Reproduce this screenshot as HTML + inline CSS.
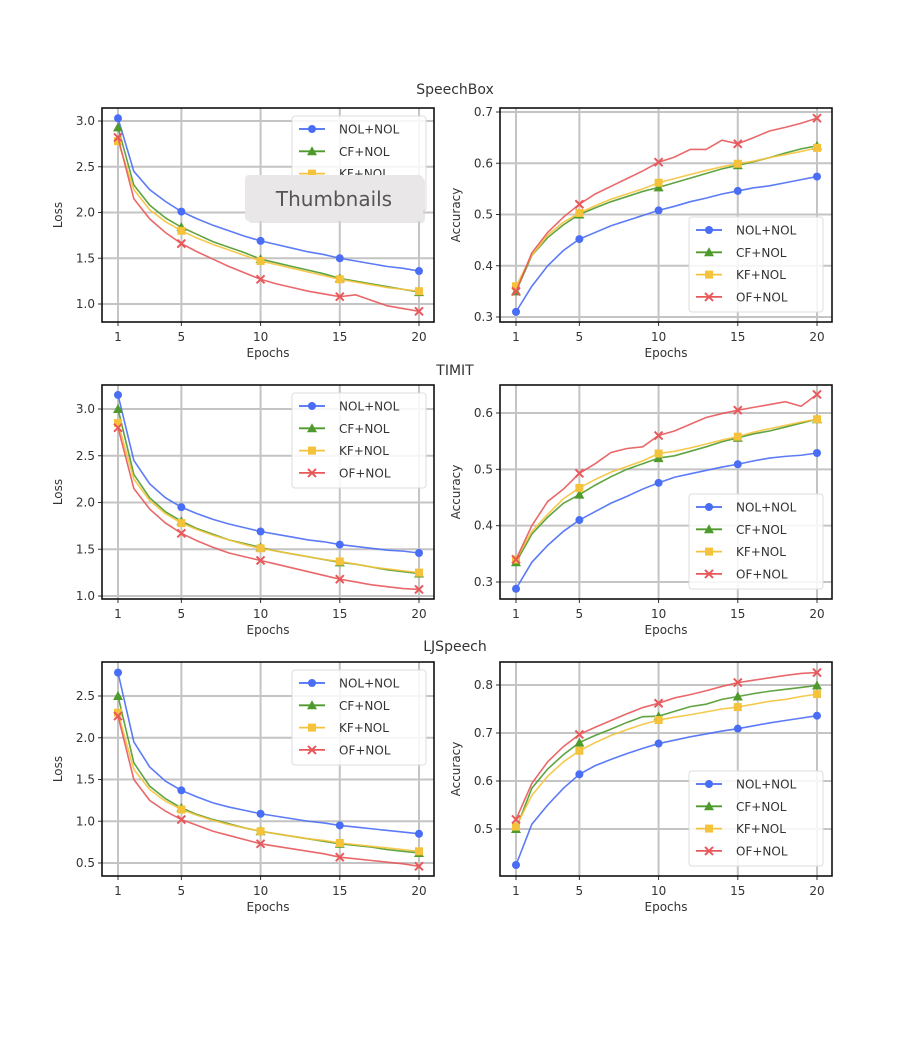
<!DOCTYPE html>
<html><head><meta charset="utf-8"><style>
body{margin:0;background:#fff;width:914px;height:1038px;overflow:hidden;font-family:"DejaVu Sans","Liberation Sans",sans-serif;}
svg{display:block}
text{font-family:"DejaVu Sans","Liberation Sans",sans-serif;fill:#333}
</style></head><body>
<svg id="fig" width="914" height="1038" viewBox="0 0 914 1038"></svg>
<script>
const epochs=[1,2,3,4,5,6,7,8,9,10,11,12,13,14,15,16,17,18,19,20];
const seriesNames=["NOL+NOL","CF+NOL","KF+NOL","OF+NOL"];
const xTicks=[1,5,10,15,20];
// SpeechBox
const sbLossNOL=[3.03,2.45,2.25,2.12,2.01,1.93,1.86,1.80,1.74,1.69,1.65,1.61,1.57,1.54,1.50,1.47,1.44,1.41,1.39,1.36];
const sbLossCF=[2.93,2.30,2.08,1.94,1.84,1.76,1.68,1.62,1.56,1.49,1.45,1.41,1.37,1.33,1.28,1.25,1.22,1.19,1.16,1.13];
const sbLossKF=[2.78,2.25,2.03,1.90,1.80,1.72,1.65,1.59,1.53,1.47,1.43,1.39,1.35,1.31,1.27,1.24,1.21,1.18,1.16,1.14];
const sbLossOF=[2.82,2.15,1.93,1.78,1.66,1.57,1.49,1.41,1.34,1.27,1.22,1.18,1.14,1.11,1.08,1.10,1.04,0.98,0.95,0.92];
const sbAccNOL=[0.31,0.36,0.40,0.43,0.452,0.465,0.478,0.488,0.498,0.508,0.516,0.525,0.532,0.540,0.546,0.552,0.556,0.562,0.568,0.574];
const sbAccCF=[0.35,0.42,0.455,0.48,0.50,0.513,0.525,0.535,0.545,0.553,0.562,0.571,0.580,0.589,0.596,0.603,0.611,0.620,0.628,0.634];
const sbAccKF=[0.36,0.42,0.46,0.485,0.503,0.517,0.530,0.540,0.550,0.562,0.570,0.578,0.586,0.593,0.599,0.604,0.611,0.617,0.623,0.630];
const sbAccOF=[0.35,0.425,0.465,0.495,0.52,0.54,0.555,0.570,0.585,0.602,0.612,0.627,0.627,0.645,0.638,0.650,0.663,0.670,0.678,0.688];
// TIMIT
const tmLossNOL=[3.15,2.45,2.2,2.05,1.95,1.88,1.82,1.77,1.73,1.69,1.66,1.63,1.60,1.58,1.55,1.53,1.51,1.49,1.48,1.46];
const tmLossCF=[3.0,2.30,2.05,1.90,1.80,1.72,1.66,1.60,1.56,1.52,1.48,1.45,1.42,1.39,1.36,1.34,1.31,1.28,1.26,1.24];
const tmLossKF=[2.85,2.25,2.02,1.88,1.78,1.71,1.65,1.60,1.55,1.51,1.48,1.45,1.42,1.39,1.37,1.34,1.31,1.29,1.27,1.25];
const tmLossOF=[2.80,2.15,1.93,1.78,1.67,1.59,1.52,1.46,1.42,1.38,1.34,1.30,1.26,1.22,1.18,1.15,1.12,1.10,1.08,1.07];
const tmAccNOL=[0.288,0.335,0.365,0.39,0.41,0.425,0.44,0.452,0.465,0.476,0.486,0.492,0.498,0.504,0.509,0.515,0.52,0.523,0.525,0.529];
const tmAccCF=[0.335,0.385,0.415,0.44,0.455,0.472,0.487,0.50,0.51,0.52,0.524,0.532,0.54,0.549,0.556,0.563,0.568,0.575,0.582,0.589];
const tmAccKF=[0.34,0.39,0.42,0.448,0.467,0.482,0.495,0.505,0.515,0.528,0.532,0.538,0.545,0.552,0.558,0.566,0.572,0.578,0.584,0.589];
const tmAccOF=[0.34,0.40,0.443,0.465,0.493,0.51,0.53,0.537,0.54,0.56,0.568,0.58,0.592,0.599,0.605,0.61,0.615,0.62,0.612,0.633];
// LJSpeech
const ljLossNOL=[2.78,1.95,1.65,1.48,1.37,1.29,1.22,1.17,1.13,1.09,1.06,1.03,1.00,0.98,0.95,0.93,0.91,0.89,0.87,0.85];
const ljLossCF=[2.50,1.70,1.42,1.27,1.16,1.08,1.02,0.97,0.92,0.88,0.85,0.82,0.79,0.76,0.73,0.71,0.69,0.66,0.64,0.62];
const ljLossKF=[2.30,1.62,1.38,1.24,1.14,1.07,1.01,0.96,0.92,0.88,0.85,0.82,0.79,0.77,0.74,0.72,0.70,0.68,0.66,0.64];
const ljLossOF=[2.26,1.50,1.25,1.12,1.02,0.95,0.88,0.83,0.78,0.73,0.70,0.67,0.64,0.61,0.57,0.55,0.53,0.51,0.49,0.46];
const ljAccNOL=[0.425,0.51,0.55,0.585,0.614,0.632,0.645,0.657,0.668,0.678,0.685,0.692,0.698,0.704,0.709,0.715,0.721,0.726,0.731,0.736];
const ljAccCF=[0.50,0.585,0.625,0.655,0.68,0.695,0.708,0.722,0.734,0.735,0.745,0.755,0.76,0.77,0.776,0.782,0.787,0.791,0.795,0.799];
const ljAccKF=[0.505,0.57,0.61,0.64,0.663,0.68,0.695,0.707,0.718,0.727,0.733,0.738,0.744,0.75,0.754,0.76,0.766,0.77,0.776,0.781];
const ljAccOF=[0.52,0.595,0.64,0.672,0.697,0.712,0.726,0.74,0.753,0.762,0.773,0.78,0.788,0.797,0.805,0.81,0.815,0.82,0.824,0.826];
const lossTicks1=[1.0,1.5,2.0,2.5,3.0], accTicks1=[0.3,0.4,0.5,0.6,0.7];
const lossTicks2=[1.0,1.5,2.0,2.5,3.0], accTicks2=[0.3,0.4,0.5,0.6];
const lossTicks3=[0.5,1.0,1.5,2.0,2.5], accTicks3=[0.5,0.6,0.7,0.8];

const colors=["#4a6df5","#4f9a2c","#f5c33b","#e8585a"];
const NS="http://www.w3.org/2000/svg";
const svg=document.getElementById('fig');
function mk(tag,attrs,parent){const e=document.createElementNS(NS,tag);for(const k in attrs)e.setAttribute(k,attrs[k]);(parent||svg).appendChild(e);return e;}
function txt(s,attrs,parent){const e=mk('text',attrs,parent);e.textContent=s;return e;}

function marker(g,k,x,y,c){
  let m;
  if(k===0){m=mk('circle',{cx:x,cy:y,r:4,fill:c},g);}
  else if(k===1){m=mk('polygon',{points:`${x},${y-5} ${x-5},${y+4} ${x+5},${y+4}`,fill:c},g);}
  else if(k===2){m=mk('rect',{x:x-4,y:y-4,width:8,height:8,fill:c},g);}
  else {m=mk('path',{d:`M${x-4} ${y-4}L${x+4} ${y+4}M${x-4} ${y+4}L${x+4} ${y-4}`,stroke:c,'stroke-width':2},g);}
  
  
}

function plot(name,box,xmap,ymap,yTicks,ylabel,series,legendPos){
  const g=mk('g',{});
  
  
  const X=v=>xmap[1]+(v-xmap[0])*(xmap[3]-xmap[1])/(xmap[2]-xmap[0]);
  const Y=v=>ymap[1]+(v-ymap[0])*(ymap[3]-ymap[1])/(ymap[2]-ymap[0]);
  // grid
  xTicks.forEach(t=>{mk('line',{x1:X(t),x2:X(t),y1:box.t,y2:box.b,stroke:'#c4c4c4','stroke-width':2},g);
    mk('line',{x1:X(t),x2:X(t),y1:box.b,y2:box.b+4,stroke:'#333','stroke-width':1},g);
    const l=txt(String(t),{x:X(t),y:box.b+19,'font-size':12,'text-anchor':'middle'},g);
    });
  yTicks.forEach(t=>{mk('line',{x1:box.l,x2:box.r,y1:Y(t),y2:Y(t),stroke:'#c4c4c4','stroke-width':2},g);
    mk('line',{x1:box.l-4,x2:box.l,y1:Y(t),y2:Y(t),stroke:'#333','stroke-width':1},g);
    const l=txt(t.toFixed(1),{x:box.l-7,y:Y(t)+4,'font-size':12,'text-anchor':'end'},g);
    });
  // series
  series.forEach((s,k)=>{
    const p=mk('polyline',{points:s.map((v,i)=>X(epochs[i])+','+Y(v)).join(' '),fill:'none',stroke:colors[k],'stroke-width':1.6,'stroke-opacity':0.9},g);
    
    
    xTicks.forEach(t=>marker(g,k,X(t),Y(s[t-1]),colors[k]));
  });
  mk('rect',{x:box.l,y:box.t,width:box.r-box.l,height:box.b-box.t,fill:'none',stroke:'#111','stroke-width':1.6},g);
  const xl=txt('Epochs',{x:(box.l+box.r)/2,y:box.b+35,'font-size':12,'text-anchor':'middle'},g);
  
  const cy=(box.t+box.b)/2, yx=box.l-40;
  const yl=txt(ylabel,{x:yx,y:cy,'font-size':12,'text-anchor':'middle',transform:`rotate(-90 ${yx} ${cy})`},g);
  
  // legend
  const lg=mk('g',{},g);
  
  mk('rect',{x:legendPos[0],y:legendPos[1],width:134,height:95,rx:3,fill:'#fff','fill-opacity':0.85,stroke:'#ddd'},lg);
  seriesNames.forEach((n,k)=>{
    const yy=legendPos[1]+13+k*22.3;
    mk('line',{x1:legendPos[0]+7,x2:legendPos[0]+33,y1:yy,y2:yy,stroke:colors[k],'stroke-width':1.8},lg);
    marker(lg,k,legendPos[0]+20,yy,colors[k]);
    const e=txt(n,{x:legendPos[0]+47,y:yy+4.5,'font-size':12},lg);
    
  });
}
const L={l:102,r:434},R={l:500,r:832};
plot('speechbox-loss-chart',{...L,t:108,b:322},[1,118,20,419],[3.0,121,1.0,304],lossTicks1,'Loss',[sbLossNOL,sbLossCF,sbLossKF,sbLossOF],[292,116]);
plot('speechbox-accuracy-chart',{...R,t:108,b:322},[1,516,20,817],[0.7,112,0.3,317],accTicks1,'Accuracy',[sbAccNOL,sbAccCF,sbAccKF,sbAccOF],[689,217]);
plot('timit-loss-chart',{...L,t:385,b:599},[1,118,20,419],[3.0,409,1.0,596],lossTicks2,'Loss',[tmLossNOL,tmLossCF,tmLossKF,tmLossOF],[292,393]);
plot('timit-accuracy-chart',{...R,t:385,b:599},[1,516,20,817],[0.6,413,0.3,582],accTicks2,'Accuracy',[tmAccNOL,tmAccCF,tmAccKF,tmAccOF],[689,494]);
plot('ljspeech-loss-chart',{...L,t:662,b:876},[1,118,20,419],[2.5,696,0.5,863],lossTicks3,'Loss',[ljLossNOL,ljLossCF,ljLossKF,ljLossOF],[292,670]);
plot('ljspeech-accuracy-chart',{...R,t:662,b:876},[1,516,20,817],[0.8,685,0.5,829],accTicks3,'Accuracy',[ljAccNOL,ljAccCF,ljAccKF,ljAccOF],[689,771]);
[['SpeechBox',94,'title-speechbox'],['TIMIT',375,'title-timit'],['LJSpeech',651,'title-ljspeech']].forEach(a=>{
  const t=txt(a[0],{x:455,y:a[1],'font-size':14,'text-anchor':'middle'});
  
});
// thumbnails tooltip overlay
const th=mk('g',{});


mk('rect',{x:248,y:178,width:177,height:45,rx:4,fill:'#d8d6d6','fill-opacity':0.6},th);
mk('rect',{x:245,y:175,width:178,height:46,rx:4,fill:'#e9e7e7'},th);
txt('Thumbnails',{x:334,y:206,'font-size':20,'text-anchor':'middle',fill:'#555'},th).setAttribute('style','fill:#555');
</script>
</body></html>
